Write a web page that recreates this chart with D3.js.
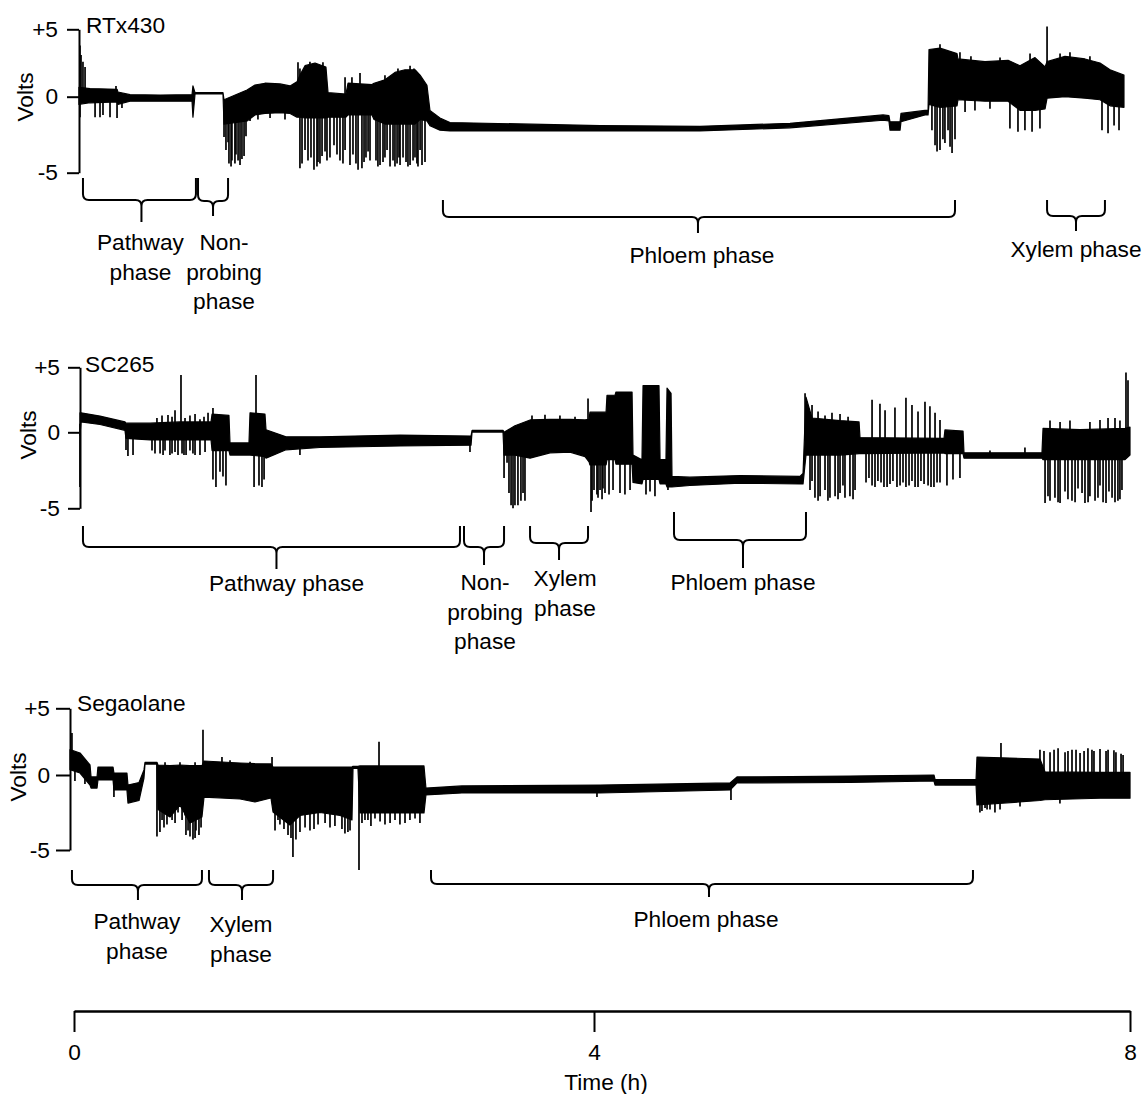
<!DOCTYPE html>
<html>
<head>
<meta charset="utf-8">
<script src="https://cdn.jsdelivr.net/npm/d3@7"></script>
<style>
body { margin: 0; background: #fff; }
svg text { font-family: "Liberation Sans", Arial, sans-serif; font-size: 22.7px; fill: #000; }
</style>
</head>
<body>
<svg id="chart" width="1145" height="1094"></svg>
<script>
// ---- data: time in hours, signal in volts ----
// RTx430 trace envelope (band) and single spikes
var rtxT  = [0.038,0.123,0.331,0.338,0.431,0.662,0.908,0.915,0.931,1.146,1.154,1.331,1.392,1.469,1.585,1.662,1.715,1.738,1.777,1.854,1.938,1.954,2.092,2.108,2.292,2.308,2.392,2.469,2.546,2.623,2.662,2.715,2.738,2.815,2.892,4.045,4.791,5.463,6.157,6.201,6.209,6.284,6.291,6.470,6.493,6.5,6.582,6.709,6.716,6.918,7.090,7.179,7.291,7.366,7.381,7.515,7.664,7.776,7.851,7.955];
var rtxHi = [0.7,0.6,0.55,0.35,0.15,0.12,0.15,0.8,0.3,0.3,-0.2,0.5,0.87,1.0,0.95,0.8,1.1,1.6,2.3,2.5,2.2,0.3,0.2,1.0,0.9,1.0,1.25,1.8,2.0,2.0,1.6,0.85,-0.9,-1.4,-1.7,-1.9,-1.95,-1.75,-1.2,-1.25,-1.65,-1.65,-1.1,-0.9,-0.9,3.5,3.6,3.2,2.8,2.6,2.7,2.3,2.9,2.2,2.6,3.0,2.8,2.5,2.0,1.6];
var rtxLo = [-0.5,-0.4,-0.35,-0.5,-0.3,-0.3,-0.3,-1.35,0.2,0.2,-1.8,-1.6,-1.2,-1.1,-1.05,-1.1,-1.35,-1.35,-1.4,-1.4,-1.4,-1.35,-1.35,-1.2,-1.2,-1.5,-1.8,-1.8,-1.8,-1.8,-1.5,-1.6,-1.9,-2.2,-2.25,-2.25,-2.25,-2.05,-1.55,-1.6,-2.2,-2.2,-1.65,-1.2,-1.2,-0.5,-0.7,-0.6,-0.2,-0.3,-0.3,-0.9,-0.9,-0.8,-0.1,0.0,-0.1,-0.2,-0.6,-0.7];
var rtxSpikeT = [0.046,0.054,0.069,0.085,0.046,0.162,0.2,0.223,0.277,0.331,0.323,0.369,1.154,1.169,1.192,1.215,1.238,1.262,1.292,1.323,1.723,1.738,1.777,1.8,1.869,1.877,1.908,1.915,1.946,1.969,2.0,2.046,2.085,2.085,2.123,2.138,2.169,2.2,2.215,2.246,2.277,2.323,2.354,2.377,2.408,2.431,2.454,2.485,2.508,2.531,2.554,2.585,2.608,2.638,2.662,2.677,2.7,6.522,6.545,6.582,6.582,6.619,6.642,6.672,6.694,6.731,6.769,6.843,6.955,7.104,7.164,7.216,7.269,7.328,7.381,7.478,7.791,7.836,7.881,7.918,
  1.185,1.208,1.246,1.277,1.308,1.354,1.415,1.508,1.623,1.754,1.823,1.846,1.892,1.931,2.023,2.069,2.146,2.185,2.231,2.262,2.338,2.392,2.469,2.5,2.569,2.623,2.646,1.738,1.815,2.392,2.492,2.585,2.615,6.560,6.604,6.657,6.813,7.030,7.254,7.552,7.701];
var rtxSpikeV = [3.8,3.1,2.6,2.2,-1.35,-1.35,-1.35,-1.2,-1.35,-1.4,0.8,-0.75,-2.65,-3.5,-4.4,-4.2,-4.4,-4.2,-4.1,-2.6,2.55,-4.7,-3.5,-4.2,-4.6,-4.3,-3.9,2.55,-4.2,-4.0,-3.2,-4.2,-3.5,1.45,-4.5,1.45,-4.4,1.75,-4.7,-4.0,-4.2,-4.2,-4.5,-4.3,-3.5,-4.6,-4.2,-4.4,-4.5,-4.0,-4.3,-4.5,-4.2,-4.4,-3.5,-4.5,-4.3,-2.2,-3.2,-3.5,3.9,-3.05,-2.2,-3.7,-2.8,3.3,-1.0,-0.9,-0.8,-2.1,-2.3,-2.2,-2.3,-2.1,5.2,3.2,-2.2,-2.4,-1.9,-2.2,
  -3.0,-4.6,-3.8,-4.5,-3.9,-1.6,-1.5,-1.4,-1.5,-4.4,-4.0,-4.8,-4.4,-3.6,-3.8,-4.4,-3.8,-4.8,-4.3,-3.6,-4.6,-4.0,-4.6,-4.0,-4.6,-4.0,-4.6,2.1,2.6,1.6,2.1,2.3,2.1,-3.6,-2.8,-3.3,3.0,2.9,3.2,3.3,3.0];
var rtxPhases = ["Pathway phase", "Non-probing phase", "Phloem phase", "Xylem phase"];
var rtxStart = [0.069, 0.954, 2.838, 7.381];
var rtxEnd   = [0.938, 1.185, 6.694, 7.813];

// SC265
var scT  = [0.046,0.054,0.2,0.392,0.4,0.585,0.815,1.054,1.062,1.192,1.2,1.346,1.354,1.469,1.477,1.631,1.892,2.508,3.054,3.062,3.3,3.308,3.392,3.508,3.662,3.815,3.931,3.962,3.969,4.09,4.097,4.157,4.164,4.284,4.291,4.358,4.366,4.485,4.493,4.537,4.545,4.575,4.582,4.716,5.09,5.537,5.56,5.582,5.627,5.836,5.978,5.985,6.612,6.619,6.754,6.761,7.343,7.351,7.627,7.963,8.0];
var scHi = [1.5,1.5,1.25,0.8,0.7,0.7,0.8,0.8,1.4,1.3,-0.7,-0.7,1.5,1.4,0.2,-0.3,-0.3,-0.18,-0.25,0.15,0.15,0.0,0.5,0.95,1.0,1.0,0.95,1.0,1.55,1.55,2.85,2.85,3.1,3.1,-1.5,-1.8,3.6,3.6,-1.8,-1.8,3.4,3.0,-2.9,-2.95,-2.85,-2.9,-2.7,2.7,1.1,0.9,0.8,-0.35,-0.4,0.18,0.1,-1.35,-1.35,0.3,0.2,0.3,0.4];
var scLo = [-0.2,0.8,0.6,0.15,-0.4,-0.5,-0.5,-0.5,-1.2,-1.2,-1.5,-1.5,-1.5,-1.6,-1.7,-1.15,-1.0,-0.9,-0.85,0.02,0.02,-1.5,-1.5,-1.7,-1.35,-1.3,-1.6,-1.95,-2.15,-2.15,-1.8,-1.8,-2.1,-2.1,-3.3,-3.4,-3.1,-3.1,-3.4,-3.4,-3.6,-3.6,-3.6,-3.5,-3.35,-3.4,-3.4,-1.5,-1.5,-1.5,-1.4,-1.4,-1.36,-1.4,-1.4,-1.7,-1.7,-1.8,-1.8,-1.8,-1.5];
var scSpikeT = [0.046,0.4,0.415,0.454,0.6,0.662,0.7,0.738,0.777,0.8,0.831,0.862,0.892,0.931,1.008,0.638,0.723,0.777,0.823,0.892,0.969,1.031,1.069,1.092,1.123,1.146,1.169,1.069,1.169,1.385,1.4,1.423,1.446,1.462,1.738,3.046,3.308,3.331,3.362,3.392,3.415,3.438,3.469,3.523,3.623,3.738,3.854,3.954,3.977,4.0,4.022,4.045,4.067,4.082,4.112,4.142,4.194,4.231,4.269,4.388,4.418,4.455,4.552,5.575,5.612,5.649,5.687,5.724,5.761,5.799,5.836,5.873,5.910,5.948,5.627,5.724,5.896,6.03,6.075,6.119,6.164,6.209,6.261,6.306,6.351,6.396,6.440,6.493,6.537,6.582,6.075,6.172,6.328,6.373,6.470,6.545,6.582,6.634,6.679,6.731,6.955,7.216,7.366,7.403,7.440,7.478,7.515,7.567,7.612,7.664,7.701,7.739,7.776,7.821,7.866,7.910,7.940,7.478,7.776,7.888,7.970,7.985,
  5.627,5.672,5.746,5.821,5.858,5.933,5.672,5.776,5.836,7.388,7.463,7.537,7.590,7.642,7.687,7.761,7.799,7.843,7.888,7.925,7.403,7.552,7.701,7.836,7.925,3.346,3.377,3.454,3.985,4.030,4.060,6.052,6.097,6.142,6.187,6.231,6.284,6.328,6.373,6.418,6.463,6.515,6.560,6.134,6.246,6.418,6.507,0.623,0.685,0.754,0.846,0.915,0.969,0.677,0.754,0.854,0.931,1.0];
var scSpikeV = [-3.6,-1.16,-1.56,-1.5,-1.2,-1.4,-1.2,-1.5,-1.3,-1.5,-1.4,-1.5,-1.2,-1.5,-1.3,1.1,1.33,1.7,4.4,1.3,1.0,1.5,-3.1,-3.6,-2.6,-2.9,-3.5,1.87,1.0,-3.6,4.4,-3.5,-3.6,-3.1,-1.5,-1.3,-3.0,-2.0,-4.8,-4.8,-4.8,-4.5,-4.5,1.3,1.35,1.3,1.2,2.6,-5.25,-3.8,-4.1,-3.8,-3.7,-4.0,-4.1,-3.8,-4.0,-4.1,-3.8,-4.1,-3.9,-4.2,-3.8,3.0,-3.8,-4.3,-4.2,-3.8,-4.3,-4.2,-4.0,-4.3,-4.2,-3.8,2.1,1.3,1.2,-3.3,-3.5,-3.2,-3.6,-3.4,-3.6,-3.3,-3.5,-3.6,-3.2,-3.5,-3.6,-3.3,2.5,1.7,2.65,2.1,2.35,1.5,0.95,-3.5,-3.1,-3.0,-1.2,-1.0,-4.65,-4.5,-4.3,-4.65,-3.9,-4.5,-3.7,-4.65,-4.2,-4.5,-3.5,-4.65,-4.3,-4.5,-3.8,0.8,0.95,1.1,4.6,4.0,
  -3.2,-4.5,-4.5,-4.4,-3.5,-4.4,1.6,1.5,1.4,-4.2,-4.6,-4.4,-4.6,-4.0,-4.6,-4.3,-4.6,-3.9,-4.6,-4.4,0.9,0.9,0.8,1.1,0.9,-4.0,-5.0,-4.0,-4.5,-4.3,-4.4,-3.0,-3.6,-3.3,-3.6,-3.2,-3.5,-3.6,-3.2,-3.6,-3.4,-3.6,-3.3,2.2,1.9,1.6,2.0,-1.4,-1.5,-1.4,-1.5,-1.4,-1.5,1.3,1.2,1.1,1.4,1.2];
var scPhases = ["Pathway phase", "Non-probing phase", "Xylem phase", "Phloem phase"];
var scStart = [0.069, 3.0, 3.508, 4.597];
var scEnd   = [2.969, 3.308, 3.954, 5.582];

// Segaolane
var segT  = [0,0.077,0.154,0.162,0.208,0.215,0.331,0.338,0.438,0.446,0.531,0.569,0.577,0.669,0.677,0.769,0.846,0.923,1.015,1.031,1.308,1.423,1.546,1.562,1.692,1.769,1.923,2.077,2.169,2.177,2.215,2.231,2.723,2.738,3.015,4.075,5.045,5.097,5.94,6.567,6.575,6.881,6.888,7.358,7.396,7.806,8.03];
var segHi = [1.9,1.65,0.75,-0.13,-0.13,0.6,0.6,0.15,0.15,-0.67,-0.5,0.38,0.95,0.95,0.75,0.7,0.75,0.7,0.7,1.05,0.9,0.85,0.83,0.6,0.6,0.6,0.6,0.6,0.6,0.65,0.65,0.68,0.68,-0.87,-0.73,-0.67,-0.53,-0.13,-0.07,0.0,-0.3,-0.3,1.35,1.2,0.23,0.2,0.2];
var segLo = [0.4,0.15,-0.67,-0.87,-0.87,-0.33,-0.33,-1.0,-1.0,-1.87,-1.7,-0.2,0.82,0.82,-2.3,-2.8,-2.0,-3.2,-2.8,-1.47,-1.6,-1.8,-1.53,-2.47,-3.33,-2.7,-2.5,-2.7,-3.0,0.5,0.5,-2.53,-2.53,-1.33,-1.2,-1.2,-1.0,-0.53,-0.5,-0.4,-0.67,-0.67,-2.0,-1.7,-1.65,-1.55,-1.55];
var segSpikeT = [0.015,0.038,0.115,0.338,0.669,0.708,0.746,0.785,0.831,0.885,0.908,0.923,0.946,0.969,0.992,1.023,1.169,1.554,1.577,1.615,1.677,1.715,1.738,1.769,1.846,1.908,2.0,2.115,2.154,2.223,2.246,2.292,2.346,2.423,2.5,2.577,2.654,2.377,4.052,5.052,6.910,6.948,6.985,7.022,7.067,7.209,7.358,7.433,7.493,7.507,7.545,7.597,7.657,7.716,7.761,7.806,7.866,7.925,7.978,
  0.692,0.723,0.808,0.862,0.892,0.962,1.008,0.731,0.846,0.962,1.6,1.646,1.7,1.808,1.877,1.962,2.038,2.092,2.138,2.269,2.315,2.385,2.462,2.538,2.615,2.692,1.231,1.385,7.388,7.463,7.567,7.627,7.687,7.746,7.851,7.910,7.963,6.925,6.963,7.060];
var segSpikeV = [3.15,-0.4,-0.6,-1.47,-4.1,-3.0,-3.3,-3.0,-2.5,-2.7,-3.7,-4.1,-4.3,-3.7,-4.0,3.4,1.35,1.35,-3.7,-3.3,-4.0,-5.47,-4.3,-3.8,-3.7,-3.3,-3.5,-3.9,-3.7,-6.33,-3.2,-3.0,-2.9,-3.3,-3.0,-3.2,-2.9,2.5,-1.47,-1.67,-2.5,-2.2,-2.3,-2.5,2.4,-2.1,1.9,1.7,2.0,-1.9,1.7,1.9,1.65,2.0,1.8,1.95,1.9,1.7,1.5,
  -3.8,-3.5,-3.2,-3.0,-4.0,-4.2,-3.5,0.95,0.95,0.95,-3.0,-3.6,-4.2,-3.5,-3.6,-3.2,-3.4,-3.6,-3.8,-3.0,-3.4,-3.1,-3.2,-3.3,-3.0,-3.2,1.1,1.0,1.8,1.9,1.8,1.9,1.8,1.9,1.8,1.85,1.6,-2.4,-2.3,-2.3];
var segPhases = ["Pathway phase", "Xylem phase", "Phloem phase"];
var segStart = [0.015, 1.069, 2.777];
var segEnd   = [1.015, 1.562, 6.858];

var yTicks = [5, 0, -5];
var timeTicks = [0, 4, 8];

// ---- layout ----
var svg = d3.select("#chart");
var x = d3.scaleLinear().domain([0, 4, 8]).range([74, 594, 1130]);

var panels = [
  { name: "RTx430", T: rtxT, hi: rtxHi, lo: rtxLo, sT: rtxSpikeT, sV: rtxSpikeV,
    phases: rtxPhases, start: rtxStart, end: rtxEnd,
    axisX: 79, shift: 0, top: 29.3, zero: 96.7, bottom: 172.7, tick: 12, pad: 9,
    titleX: 86, titleY: 33, voltsX: 25, voltsY: 97,
    braces: [
      { top: 178, mid: 200, tip: 222, tipDx: 2, labelDx: 1, labelY: 250, wrap: 1 },
      { top: 178, mid: 201, tip: 216, tipDx: 0, labelDx: 11, labelY: 250, wrap: 2 },
      { top: 200, mid: 217, tip: 233, tipDx: -1, labelDx: 3, labelY: 263, wrap: 0 },
      { top: 200, mid: 216, tip: 231, tipDx: 0, labelDx: 0, labelY: 257, wrap: 0 }
    ] },
  { name: "SC265", T: scT, hi: scHi, lo: scLo, sT: scSpikeT, sV: scSpikeV,
    phases: scPhases, start: scStart, end: scEnd,
    axisX: 80, shift: 0, top: 367.3, zero: 432.3, bottom: 508.3, tick: 12, pad: 8,
    titleX: 85, titleY: 372, voltsX: 28, voltsY: 435,
    braces: [
      { top: 526, mid: 547, tip: 569, tipDx: 5, labelDx: 15, labelY: 591, wrap: 0 },
      { top: 526, mid: 547, tip: 565, tipDx: 0, labelDx: 1, labelY: 590, wrap: 2 },
      { top: 526, mid: 543, tip: 560, tipDx: 0, labelDx: 6, labelY: 586, wrap: 1 },
      { top: 512, mid: 540, tip: 568, tipDx: 3, labelDx: 3, labelY: 590, wrap: 0 }
    ] },
  { name: "Segaolane", T: segT, hi: segHi, lo: segLo, sT: segSpikeT, sV: segSpikeV,
    phases: segPhases, start: segStart, end: segEnd,
    axisX: 70, shift: -4, top: 708.3, zero: 775, bottom: 850, tick: 14, pad: 6,
    titleX: 77, titleY: 711, voltsX: 18, voltsY: 777,
    braces: [
      { top: 870, mid: 885, tip: 900, tipDx: 1, labelDx: 0, labelY: 929, wrap: 1 },
      { top: 870, mid: 885, tip: 900, tipDx: 1, labelDx: 0, labelY: 932, wrap: 1 },
      { top: 870, mid: 884, tip: 897, tipDx: 7, labelDx: 4, labelY: 927, wrap: 0 }
    ] }
];

function wrap(name, mode) {
  if (mode === 0) return [name];
  if (mode === 1) return name.split(" ");
  return name.replace("-", "- ").split(" ");
}

function bandMid(T, lo, hi, t) {
  var i = d3.bisectLeft(T, t);
  if (i <= 0) return (lo[0] + hi[0]) / 2;
  if (i >= T.length) return (lo[T.length - 1] + hi[T.length - 1]) / 2;
  var a = (t - T[i - 1]) / (T[i] - T[i - 1]);
  var m0 = (lo[i - 1] + hi[i - 1]) / 2, m1 = (lo[i] + hi[i]) / 2;
  return m0 + a * (m1 - m0);
}

function bracePath(x0, x1, xc, b) {
  var r = 6;
  return "M" + x0 + "," + b.top + " V" + (b.mid - r) + " Q" + x0 + "," + b.mid + " " + (x0 + r) + "," + b.mid +
    " H" + (xc - r) + " Q" + xc + "," + b.mid + " " + xc + "," + (b.mid + r) + " V" + b.tip +
    " M" + x1 + "," + b.top + " V" + (b.mid - r) + " Q" + x1 + "," + b.mid + " " + (x1 - r) + "," + b.mid +
    " H" + (xc + r) + " Q" + xc + "," + b.mid + " " + xc + "," + (b.mid + r);
}

panels.forEach(function (p) {
  var y = d3.scaleLinear().domain([-5, 0, 5]).range([p.bottom, p.zero, p.top]);
  var g = svg.append("g").attr("transform", "translate(" + p.shift + ",0)");

  // trace envelope
  var pts = p.T.map(function (t, i) { return { t: t, lo: p.lo[i], hi: p.hi[i] }; });
  var area = d3.area()
    .x(function (d) { return x(d.t); })
    .y0(function (d) { return y(d.lo); })
    .y1(function (d) { return y(d.hi); });
  g.append("path")
    .datum(pts)
    .attr("d", area)
    .attr("fill", "#000")
    .attr("stroke", "#000")
    .attr("stroke-width", 1.2)
    .attr("stroke-linejoin", "round");

  // spikes
  g.selectAll("line.spike")
    .data(p.sT.map(function (t, i) { return { t: t, v: p.sV[i] }; }))
    .enter().append("line")
    .attr("class", "spike")
    .attr("x1", function (d) { return x(d.t); })
    .attr("x2", function (d) { return x(d.t); })
    .attr("y1", function (d) { return y(bandMid(p.T, p.lo, p.hi, d.t)); })
    .attr("y2", function (d) { return y(d.v); })
    .attr("stroke", "#000")
    .attr("stroke-width", 1.7);

  // phase braces and labels
  p.phases.forEach(function (name, i) {
    var b = p.braces[i];
    var x0 = x(p.start[i]), x1 = x(p.end[i]);
    var xc = (x0 + x1) / 2 + b.tipDx;
    g.append("path")
      .attr("d", bracePath(x0, x1, xc, b))
      .attr("fill", "none")
      .attr("stroke", "#000")
      .attr("stroke-width", 2);
    wrap(name, b.wrap).forEach(function (line, k) {
      g.append("text")
        .attr("x", (x0 + x1) / 2 + b.labelDx)
        .attr("y", b.labelY + k * 29.7)
        .attr("text-anchor", "middle")
        .text(line);
    });
  });

  // y axis
  var ax = d3.axisLeft(y)
    .tickValues(yTicks)
    .tickFormat(function (d) { return d > 0 ? "+" + d : String(d); })
    .tickSize(p.tick)
    .tickSizeOuter(0)
    .tickPadding(p.pad);
  var ag = svg.append("g").attr("transform", "translate(" + p.axisX + ",0)").call(ax);
  ag.selectAll("path, line").attr("stroke", "#000").attr("stroke-width", 2);

  svg.append("text")
    .attr("x", p.titleX)
    .attr("y", p.titleY)
    .text(p.name);

  svg.append("text")
    .attr("transform", "translate(" + p.voltsX + "," + p.voltsY + ") rotate(-90)")
    .attr("text-anchor", "middle")
    .attr("dy", "0.35em")
    .text("Volts");
});

// time axis
var xa = d3.axisBottom(x)
  .tickValues(timeTicks)
  .tickSize(21)
  .tickSizeOuter(0)
  .tickPadding(12);
var xg = svg.append("g").attr("transform", "translate(0,1011)").call(xa);
xg.selectAll("path").attr("stroke", "#000").attr("stroke-width", 2.5);
xg.selectAll("line").attr("stroke", "#000").attr("stroke-width", 2);

svg.append("text")
  .attr("x", 606)
  .attr("y", 1090)
  .attr("text-anchor", "middle")
  .text("Time (h)");
</script>
</body>
</html>
